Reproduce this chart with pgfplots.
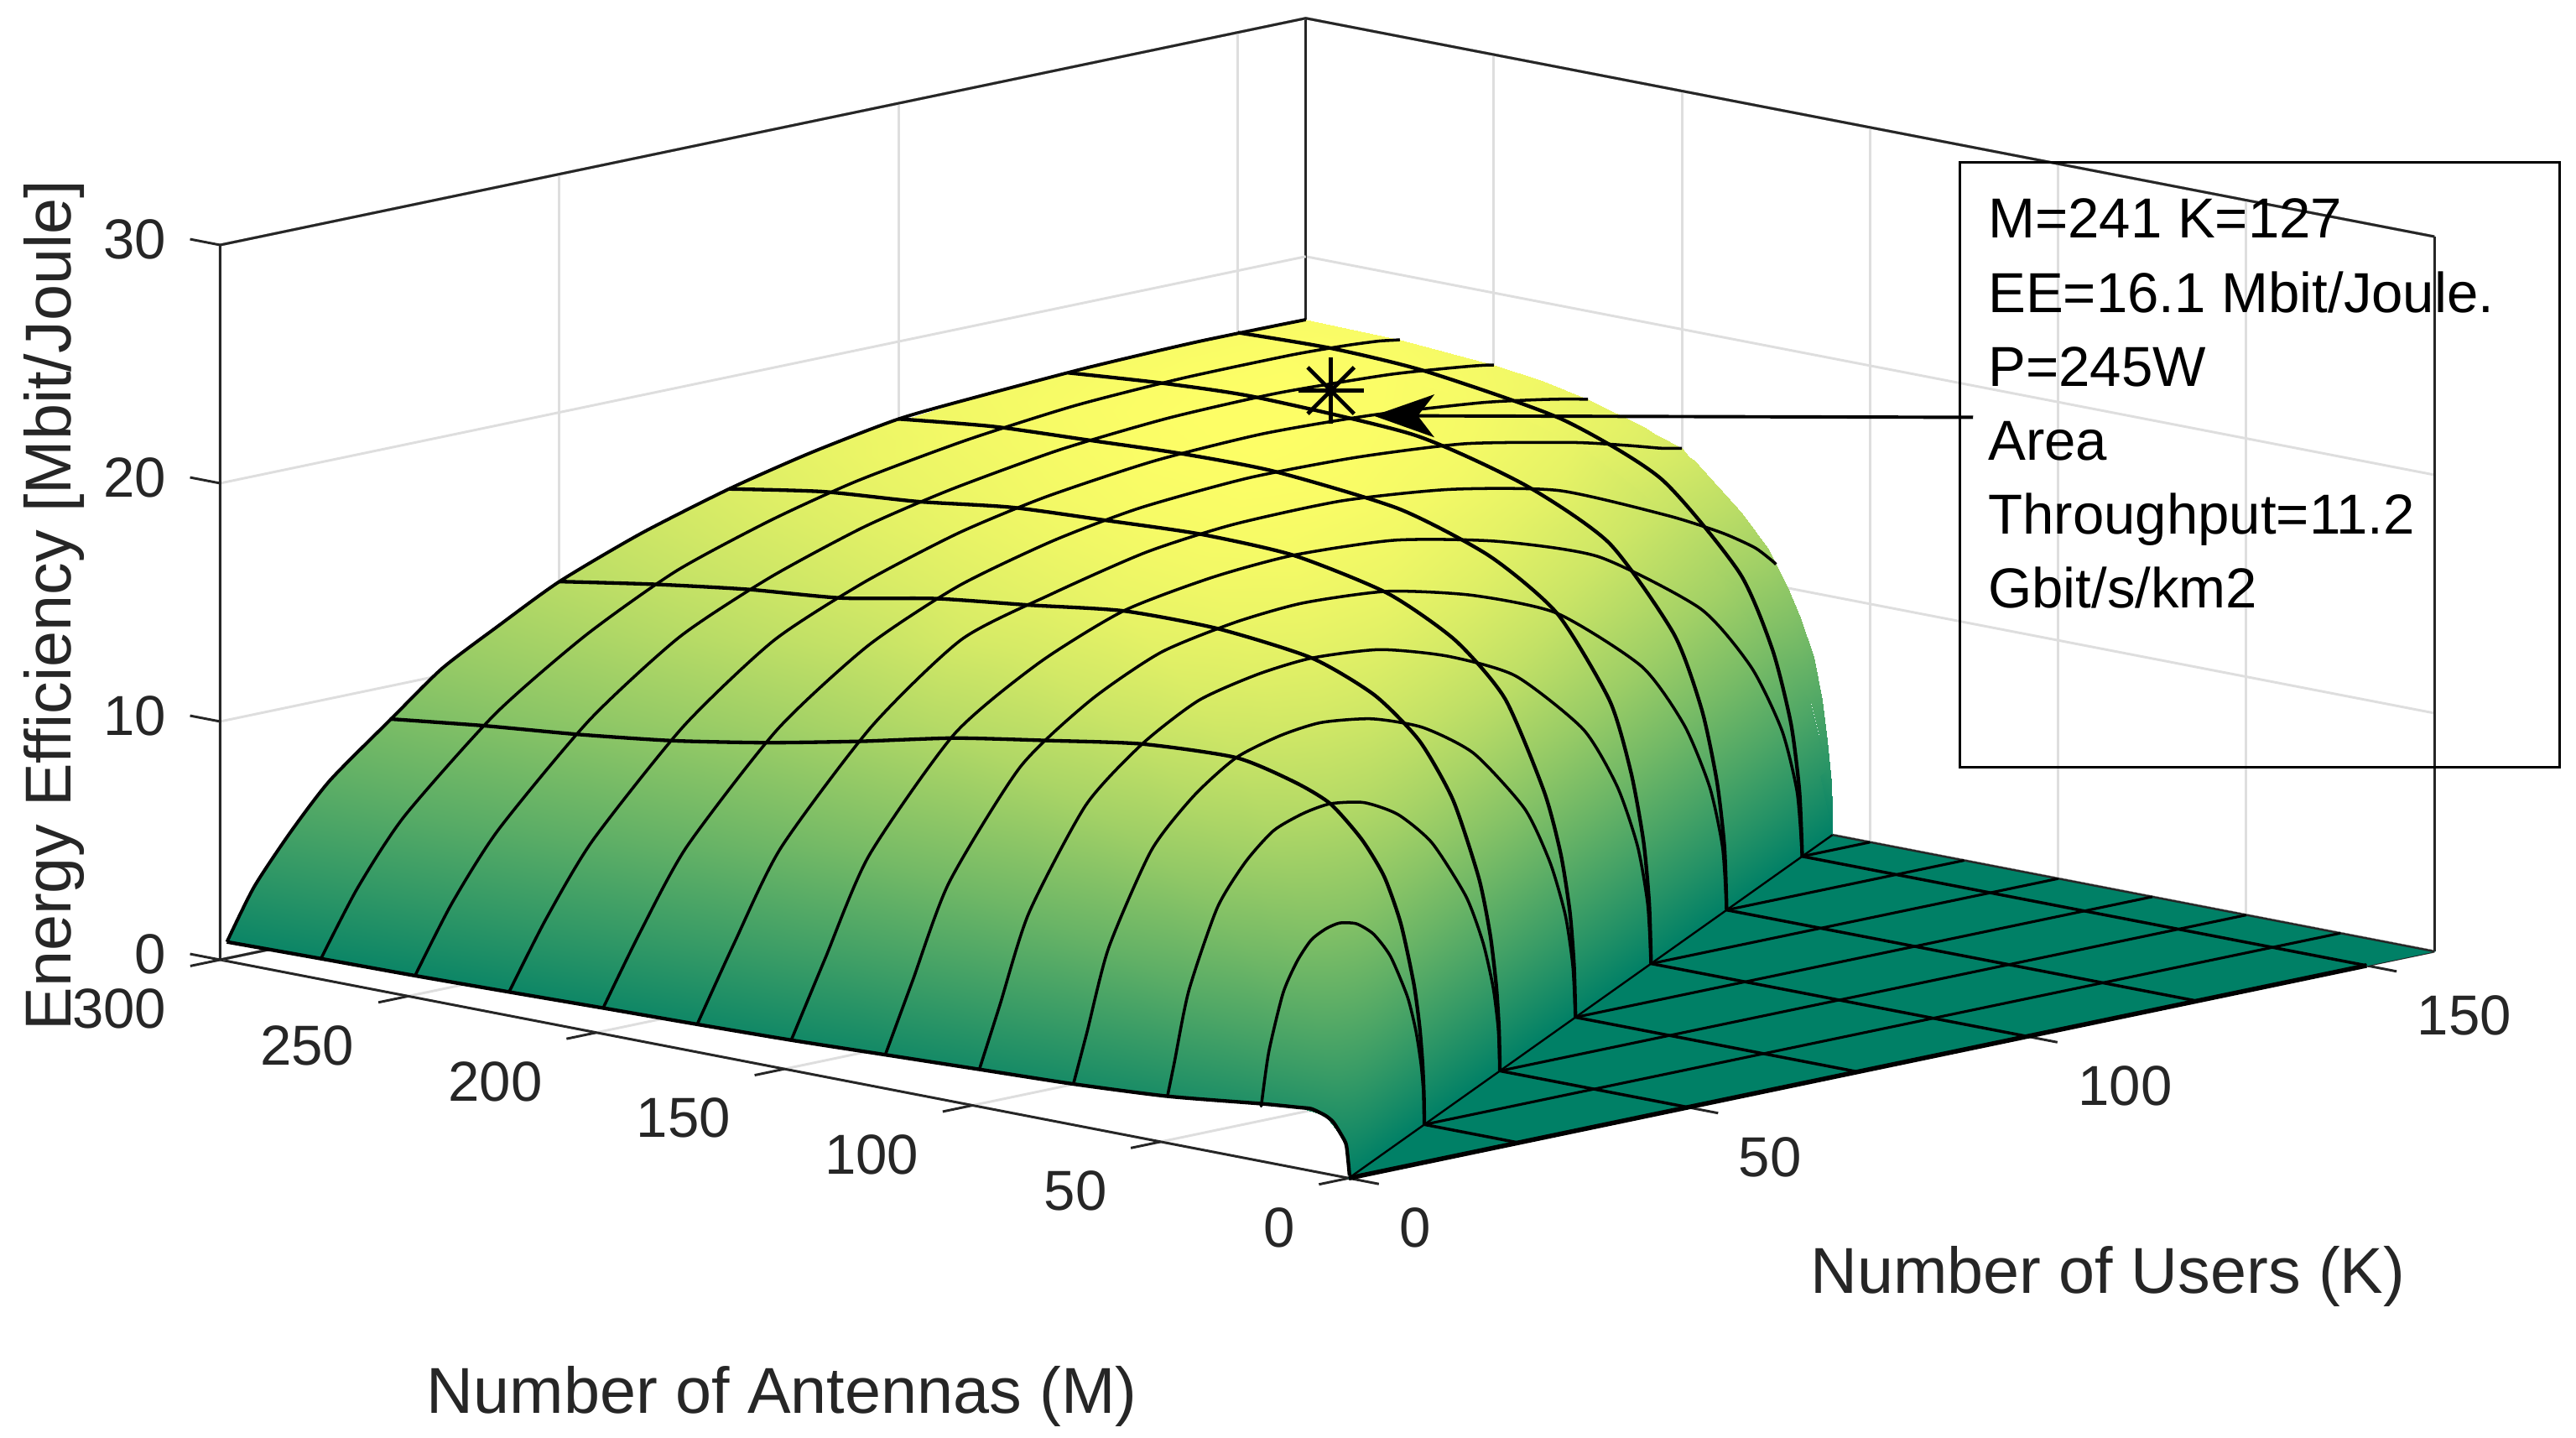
\documentclass[border=0pt]{standalone}
\usepackage{fontspec}
\setmainfont{Liberation Sans}
\usepackage{pgfplots}
\usepackage{pgfplotstable}
\pgfplotsset{compat=1.18}
\usetikzlibrary{arrows.meta}

\definecolor{axgray}{gray}{0.15}
\definecolor{gridgray}{gray}{0.87}
\newcommand{\ticksize}{\fontsize{34.3}{36}\selectfont}
\newcommand{\labsize}{\fontsize{39.5}{42}\selectfont}

% surface rows: one text line per M, K from the front edge to the K=M ridge foot (or K=160)
\pgfplotstableread[row sep=\\]{
M K z\\
300 1 0.69\\300 6.4 3.3\\300 13.3 5.7\\300 26.7 8.95\\300 40 11.45\\300 53.3 13.3\\300 67.2 14.75\\300 80 15.7\\300 96 16.55\\300 112 17.0\\300 128 17.25\\300 144 17.37\\300 152 17.4\\300 156.8 17.38\\300 159.2 17.37\\300 160 17.35\\
275 1 0.75\\275 6.4 3.4\\275 13.3 6.0\\275 26.7 9.5\\275 40 12.0\\275 53.3 13.9\\275 67.2 15.2\\275 80 16.1\\275 96 16.85\\275 112 17.35\\275 128 17.56\\275 144 17.58\\275 152 17.5\\275 156.8 17.4\\275 159.2 17.3\\275 160 17.27\\
250 1 0.8\\250 6.4 3.5\\250 13.3 6.2\\250 26.7 10.0\\250 40 12.7\\250 53.3 14.4\\250 67.2 15.7\\250 80 16.51\\250 96 17.22\\250 112 17.6\\250 128 17.69\\250 144 17.5\\250 152 17.28\\250 156.8 17.12\\250 159.2 17.02\\250 160 16.97\\
225 1 0.88\\225 6.4 3.6\\225 13.3 6.5\\225 26.7 10.5\\225 40 13.31\\225 53.3 14.96\\225 67.2 16.2\\225 80 16.95\\225 96 17.51\\225 112 17.7\\225 128 17.53\\225 144 17.1\\225 152 16.75\\225 156.8 16.5\\225 159.2 16.35\\225 160 16.3\\
200 1 0.97\\200 6.4 3.8\\200 13.3 7.0\\200 26.7 11.14\\200 40 13.85\\200 53.3 15.56\\200 67.2 16.63\\200 80 17.25\\200 96 17.56\\200 112 17.48\\200 128 17.1\\200 144 16.2\\200 152 15.6\\200 156.8 15.2\\200 159.2 15.05\\200 160 15\\
175 1 1.05\\175 6.4 4.1\\175 13.3 7.71\\175 26.7 12.02\\175 40 14.89\\175 53.3 16.01\\175 67.2 16.93\\175 80 17.33\\175 96 17.37\\175 112 16.9\\175 128 15.9\\175 144 13.9\\175 152 12.7\\175 156.8 11.8\\175 159.2 11.15\\175 160 10.9\\
160 1 1.1\\160 6.4 4.3\\160 13.3 8.26\\160 26.7 12.64\\160 40 14.9\\160 53.3 16.34\\160 67.2 16.98\\160 80 17.2\\160 96 16.94\\160 112 16\\160 128 14.45\\160 144 11.35\\160 152 8.43\\160 156.8 5.5\\160 159.2 2.75\\160 160 0\\
150 1 1.15\\150 6 4.28\\150 12.45 8.21\\150 25.05 12.57\\150 37.5 14.81\\150 49.95 16.25\\150 63 16.88\\150 75 17.1\\150 90 16.84\\150 105 15.9\\150 120 14.36\\150 135 11.29\\150 142.5 8.38\\150 147 5.47\\150 149.25 2.74\\150 150 0\\
125 1 1.3\\125 5 4.15\\125 10.4 7.97\\125 20.9 12.2\\125 31.25 14.38\\125 41.6 15.77\\125 52.5 16.38\\125 62.5 16.6\\125 75 16.35\\125 87.5 15.44\\125 100 13.94\\125 112.5 10.96\\125 118.75 8.13\\125 122.5 5.31\\125 124.4 2.66\\125 125 0\\
100 1 1.45\\100 4 3.95\\100 8.3 7.58\\100 16.7 11.61\\100 25 13.68\\100 33.3 15.01\\100 42 15.59\\100 50 15.8\\100 60 15.56\\100 70 14.69\\100 80 13.27\\100 90 10.43\\100 95 7.74\\100 98 5.06\\100 99.5 2.53\\100 100 0\\
75 1 1.6\\75 3 3.65\\75 6.2 7.01\\75 12.5 10.73\\75 18.75 12.64\\75 25 13.87\\75 31.5 14.41\\75 37.5 14.6\\75 45 14.31\\75 52.5 13.5\\75 60 11.97\\75 67.5 9.2\\75 71.25 6.72\\75 73.5 4.38\\75 74.6 2.19\\75 75 0\\
50 1 1.85\\50 2 3.18\\50 4.15 6.1\\50 8.35 9.33\\50 12.5 11\\50 16.65 12.07\\50 21 12.53\\50 25 12.7\\50 30 12.45\\50 35 11.65\\50 40 10.16\\50 45 7.62\\50 47.5 5.54\\50 49 3.56\\50 49.75 1.78\\50 50 0\\
25 1 2.3\\25 1 2.3\\25 2.08 4.42\\25 4.18 6.76\\25 6.25 7.97\\25 8.33 8.74\\25 10.5 9.08\\25 12.5 9.2\\25 15 9.02\\25 17.5 8.44\\25 20 7.36\\25 22.5 5.52\\25 23.75 4.01\\25 24.5 2.58\\25 24.9 1.29\\25 25 0\\
15 1 2.45\\15 1 2.45\\15 1.25 3.26\\15 2.5 5.0\\15 3.75 5.89\\15 5 6.46\\15 6.3 6.71\\15 7.5 6.8\\15 9 6.66\\15 10.5 6.24\\15 12 5.44\\15 13.5 4.08\\15 14.25 2.96\\15 14.7 1.9\\15 14.93 0.95\\15 15 0\\
8 1 2.32\\8 1 2.32\\8 1 2.32\\8 1.34 3.09\\8 2 3.64\\8 2.66 3.99\\8 3.36 4.15\\8 4 4.2\\8 4.8 4.12\\8 5.6 3.85\\8 6.4 3.36\\8 7.2 2.52\\8 7.6 1.83\\8 7.84 1.18\\8 7.96 0.59\\8 8 0\\
3 1 1.45\\3 1 1.45\\3 1 1.45\\3 1 1.45\\3 1 1.45\\3 1 1.45\\3 1.26 1.48\\3 1.5 1.5\\3 1.8 1.47\\3 2.1 1.38\\3 2.4 1.2\\3 2.7 0.9\\3 2.85 0.65\\3 2.94 0.42\\3 2.985 0.21\\3 3 0\\
1.6 1 0\\1.6 1 0\\1.6 1 0\\1.6 1 0\\1.6 1 0\\1.6 1 0\\1.6 1 0\\1.6 1 0\\1.6 1 0\\1.6 1 0\\1.6 1 0\\1.6 1 0\\1.6 1 0\\1.6 1 0\\1.6 1 0\\1.6 1 0\\
}\surfdata

% finer band along the far edge M=300
\pgfplotstableread[row sep=\\]{
M K z\\
275 1 0.75\\275 5 2.98\\275 10.4 5.1\\275 16.2 7\\275 25.25 9.2\\275 32.7 10.8\\275 40.9 12.2\\275 50 13.55\\275 62 14.85\\275 75 15.95\\275 87 16.67\\275 100 17.2\\
300 1 0.69\\300 5 2.76\\300 10.4 4.75\\300 16.2 6.57\\300 25.25 8.62\\300 32.7 10.28\\300 40.9 11.56\\300 50 12.9\\300 62 14.2\\300 75 15.3\\300 87 16.1\\300 100 16.75\\
}\edgeA

% finer band along the right edge K=160
\pgfplotstableread[row sep=\\]{
M K z\\
250 144 17.5\\250 156.8 17.1\\250 159.2 17\\250 160 16.97\\
237 144 17.35\\237 156.8 16.85\\237 159.2 16.75\\237 160 16.7\\
225 144 17.1\\225 156.8 16.5\\225 159.2 16.35\\225 160 16.3\\
210 144 16.7\\210 156.8 15.9\\210 159.2 15.65\\210 160 15.6\\
196.7 144 16\\196.7 156.8 15\\196.7 159.2 14.7\\196.7 160 14.6\\
184.1 144 14.9\\184.1 156.8 13.3\\184.1 159.2 12.9\\184.1 160 12.8\\
177.4 144 14.2\\177.4 156.8 12.1\\177.4 159.2 11.65\\177.4 160 11.5\\
172.2 144 13.4\\172.2 156.8 11\\172.2 159.2 10.3\\172.2 160 10.1\\
168.5 144 12.8\\168.5 156.8 9.9\\168.5 159.2 9.1\\168.5 160 8.85\\
165.1 144 12.2\\165.1 156.8 8.8\\165.1 159.2 7.7\\165.1 160 7.3\\
162.9 144 11.9\\162.9 156.8 7.8\\162.9 159.2 6.2\\162.9 160 5.6\\
161.4 144 11.6\\161.4 156.8 6.9\\161.4 159.2 4.8\\161.4 160 3.9\\
160.3 144 11.4\\160.3 156.8 6.05\\160.3 159.2 3.4\\160.3 160 2.17\\
160 144 11.35\\160 156.8 5.8\\160 159.2 2.9\\160 160 0\\
}\edgeB

% finer band at the front corner
\pgfplotstableread[row sep=\\]{
M K z\\
25 1 2.3\\25 2.08 4.42\\
15 1 2.45\\15 2 4.3\\
11.7 1 2.49\\11.7 2 4.2\\
8 1 2.32\\8 2 3.64\\
5.8 1 2.09\\5.8 2 3\\
3 1 1.45\\3 2 1.4\\
2.4 1 1.2\\2.4 2 0.8\\
1.8 1 0\\1.8 1.8 0\\
}\edgeC

\begin{document}
\begin{tikzpicture}
\path[use as bounding box] (0pt,0pt) rectangle (1568pt,875pt);
\begin{axis}[
    at={(821pt,158pt)}, anchor=origin,
    x={(4.13pt,0.8625pt)}, y={(-2.29pt,0.443pt)}, z={(0pt,14.5pt)},
    xmin=0, xmax=160, ymin=0, ymax=300, zmin=0, zmax=30,
    xtick={0,50,100,150}, ytick={0,50,...,300}, ztick={0,10,20,30},
    xtick pos=left, ytick pos=left, ztick pos=left,
    clip=false,
    grid=major,
    major grid style={gridgray, line width=1.5pt},
    axis line style={axgray, line width=1.5pt},
    tick style={draw=none},
    tick align=outside,
    major tick length=17pt,
    /pgf/number format/assume math mode=true,
    tick label style={font=\ticksize, text=axgray, inner sep=0pt},
    y tick label style={anchor=east, xshift=-16pt, yshift=-26.5pt},
    x tick label style={anchor=west, xshift=14pt, yshift=-27pt},
    z tick label style={anchor=east, xshift=-16pt},
    ylabel={Number of Antennas (M)},
    xlabel={Number of Users (K)},
    zlabel={Energy Efficiency [Mbit/Joule]},
    every axis y label/.style={at={(axis cs:0,0,0)}, anchor=center, xshift=-345pt, yshift=-133pt, font=\labsize, text=axgray},
    every axis x label/.style={at={(axis cs:0,0,0)}, anchor=center, xshift=462pt, yshift=-60pt, font=\labsize, text=axgray},
    every axis z label/.style={at={(axis cs:0,0,0)}, anchor=center, xshift=-788pt, yshift=348.5pt, rotate=90, font=\labsize, text=axgray},
    colormap={summer}{rgb=(0,0.5,0.4) rgb=(1,1,0.4)},
    point meta min=0, point meta max=17.8,
    cycle list={{black}},
]
% box lines over the grid ends, and the outward ticks
\addplot3[axgray, line width=1.5pt, forget plot] coordinates {(0,300,0) (0,300,30) (160,300,30) (160,0,30)};
\addplot3[axgray, line width=1.5pt, forget plot] coordinates {(0,300,0) (160,300,0)};
\pgfplotsinvokeforeach{0,50,...,300}{
    \addplot3[axgray, line width=1.5pt, forget plot] coordinates {(0,#1,0) (-4.4,#1,0)};
}
\pgfplotsinvokeforeach{0,50,100,150}{
    \addplot3[axgray, line width=1.5pt, forget plot] coordinates {(#1,0,0) (#1,-8,0)};
}
\pgfplotsinvokeforeach{0,10,20,30}{
    \addplot3[axgray, line width=1.5pt, forget plot] coordinates {(0,300,#1) (0,308,#1)};
}
% flat part where K>M
\addplot3[surf, shader=flat, draw=none, mesh/rows=2, mesh/cols=2, forget plot] coordinates {
    (0,0,0) (160,0,0)

    (160,160,0) (160,160,0)
};
\addplot3[axgray, line width=1.2pt, forget plot] coordinates {(160,0,0) (160,160,0)};
% the dome
\addplot3[surf, shader=interp, z buffer=sort, mesh/rows=17, mesh/cols=16, forget plot]
    table[x=K, y=M, z=z] {\surfdata};
\addplot3[surf, shader=interp, z buffer=sort, mesh/rows=2, mesh/cols=12, forget plot]
    table[x=K, y=M, z=z] {\edgeA};
\addplot3[surf, shader=interp, z buffer=sort, mesh/rows=14, mesh/cols=4, forget plot]
    table[x=K, y=M, z=z] {\edgeB};
\addplot3[surf, shader=interp, z buffer=sort, mesh/rows=8, mesh/cols=2, forget plot]
    table[x=K, y=M, z=z] {\edgeC};

% constant M curves, from the same table
\pgfplotsinvokeforeach{25,50,...,275}{
    \addplot3[black, line width=1.8pt, no marks, smooth, tension=0.4, line join=round, forget plot,
        restrict expr to domain={\thisrow{M}}{#1:#1}]
        table[x=K, y=M, z=z] {\surfdata};
}
% far edge M=300
\addplot3[black, line width=2pt, no marks, smooth, tension=0.4, forget plot] coordinates {
    (1,300,0.69) (5,300,2.76) (10.4,300,4.75) (16.2,300,6.57) (25.25,300,8.62) (32.7,300,10.28) (40.9,300,11.56) (50,300,12.9) (62,300,14.2) (75,300,15.3) (87,300,16.1) (100,300,16.75) (112,300,17) (128,300,17.25) (144,300,17.37) (160,300,17.35)};
% front edge
\addplot3[black, line width=2.2pt, no marks, smooth, tension=0.4, forget plot]
    coordinates {(1,300,0.69) (1,275,0.75) (1,250,0.8) (1,225,0.88) (1,200,0.97) (1,175,1.05) (1,150,1.15) (1,125,1.3) (1,100,1.45) (1,75,1.6) (1,50,1.85) (1,25,2.3) (1,15,2.45) (1,11.7,2.49) (1,8,2.32) (1,5.8,2.09) (1,3,1.45) (1,2.4,1.2) (1,1.9,0.5) (1,1.6,0)};

% constant M on the flat part
\addplot3[black, line width=1.6pt, forget plot] coordinates {(25,25,0) (160,25,0)};
\addplot3[black, line width=1.6pt, forget plot] coordinates {(50,50,0) (160,50,0)};
\addplot3[black, line width=1.6pt, forget plot] coordinates {(75,75,0) (160,75,0)};
\addplot3[black, line width=1.6pt, forget plot] coordinates {(100,100,0) (160,100,0)};
\addplot3[black, line width=1.6pt, forget plot] coordinates {(125,125,0) (160,125,0)};
\addplot3[black, line width=1.6pt, forget plot] coordinates {(150,150,0) (160,150,0)};
% constant K on the flat part
\addplot3[black, line width=1.8pt, forget plot] coordinates {(25,0,0) (25,25,0)};
\addplot3[black, line width=1.8pt, forget plot] coordinates {(50,0,0) (50,50,0)};
\addplot3[black, line width=1.8pt, forget plot] coordinates {(75,0,0) (75,75,0)};
\addplot3[black, line width=1.8pt, forget plot] coordinates {(100,0,0) (100,100,0)};
\addplot3[black, line width=1.8pt, forget plot] coordinates {(125,0,0) (125,125,0)};
\addplot3[black, line width=1.8pt, forget plot] coordinates {(150,0,0) (150,150,0)};
% ridge foot K=M and the edge M=0
\addplot3[black, line width=1.2pt, forget plot] coordinates {(0,0,0) (160,160,0)};
\addplot3[black, line width=2.8pt, forget plot] coordinates {(0,0,0) (150,0,0)};

% constant K curves
\addplot3[black, line width=2.2pt, smooth, tension=0.4, forget plot] coordinates {
    (25,25,0) (25,25.13,1.29) (25,25.5,2.6) (25,26.3,4.12) (25,27.8,5.82) (25,31.25,8.24) (25,35.7,10.09) (25,41.7,11.47) (25,50,12.7) (25,59.5,13.32) (25,75,13.87) (25,100,13.68) (25,125,13.06) (25,150,12.4) (25,175,11.5) (25,200,10.68) (25,225,10) (25,250,9.5) (25,275,9.1) (25,300,8.62)};
\addplot3[black, line width=2.2pt, smooth, tension=0.4, forget plot] coordinates {
    (50,50,0) (50,50.25,1.78) (50,51,3.58) (50,52.6,5.65) (50,55.6,7.92) (50,62.5,11) (50,71.4,13.2) (50,83.3,14.75) (50,100,15.8) (50,125,16.27) (50,150,16.25) (50,175,15.73) (50,200,15.24) (50,225,14.5) (50,250,14.1) (50,275,13.55) (50,300,12.9)};
\addplot3[black, line width=2.2pt, smooth, tension=0.4, forget plot] coordinates {
    (75,75,0) (75,75.4,2.19) (75,76.5,4.38) (75,78.9,6.72) (75,83.3,9.2) (75,93.75,12.8) (75,107,14.85) (75,125,16.27) (75,150,17.1) (75,175,17.23) (75,200,17.04) (75,225,16.82) (75,250,16.3) (75,275,15.95) (75,300,15.3)};
\addplot3[black, line width=2.2pt, smooth, tension=0.4, forget plot] coordinates {
    (100,100,0) (100,100.5,2.53) (100,102,5.06) (100,105.3,7.84) (100,111,10.7) (100,125,13.94) (100,143,15.8) (100,167,17.04) (100,200,17.6) (100,225,17.59) (100,250,17.4) (100,275,17.2) (100,300,16.75)};
\addplot3[black, line width=2.2pt, smooth, tension=0.4, forget plot] coordinates {
    (125,125,0) (125,125.6,2.66) (125,127.6,5.33) (125,131.6,8.2) (125,139,11.15) (125,156.25,14.45) (125,178.6,16.2) (125,208,17.4) (125,250,17.7) (125,275,17.53) (125,300,17.2)};
\addplot3[black, line width=2.2pt, smooth, tension=0.4, forget plot] coordinates {
    (150,150,0) (150,150.75,2.74) (150,153,5.49) (150,157.9,8.43) (150,166.7,11.4) (150,187.5,14.7) (150,214,16.4) (150,250,17.3) (150,275,17.5) (150,300,17.4)};

% the marked operating point
\addplot3[only marks, mark=+, mark size=20pt, mark options={black, line width=2.4pt}, forget plot] coordinates {(131,241,17.9)};
\addplot3[only marks, mark=x, mark size=20pt, mark options={black, line width=2.4pt}, forget plot] coordinates {(131,241,17.9)};
\end{axis}

% annotation box
\draw[black, line width=1.5pt] (1193pt,776pt) rectangle (1558pt,408pt);
\draw[black, line width=2pt, -{Stealth[length=37pt, width=26pt, inset=10pt]}] (1201pt,621pt) -- (836pt,622pt);
\begin{scope}[every node/.style={anchor=base west, inner sep=0pt, font=\ticksize, text=black}]
\node at (1210pt,730pt) {M=241 K=127};
\node at (1210pt,685pt) {EE=16.1 Mbit/Joule.};
\node at (1210pt,640pt) {P=245W};
\node at (1210pt,595pt) {Area};
\node at (1210pt,550pt) {Throughput=11.2};
\node at (1210pt,505pt) {Gbit/s/km2};
\end{scope}
\end{tikzpicture}
\end{document}
